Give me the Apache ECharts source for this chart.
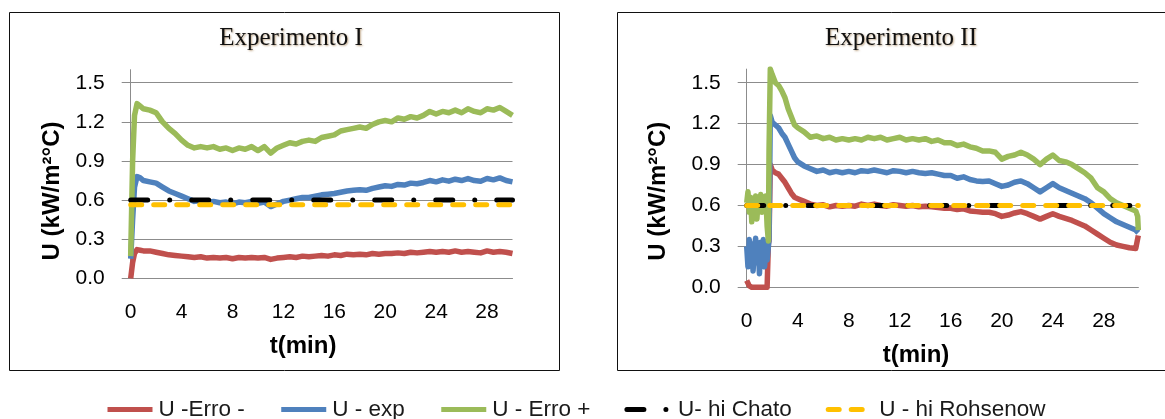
<!DOCTYPE html>
<html>
<head>
<meta charset="utf-8">
<script src="https://cdn.jsdelivr.net/npm/echarts@6/dist/echarts.min.js"></script>
<style>
html,body{margin:0;padding:0;background:#fff;}
#chart{width:1165px;height:419px;}
</style>
</head>
<body>
<div id="chart"></div>
<script>
// ---------- Data ----------
const titles = ['Experimento I', 'Experimento II'];
const seriesNames = ['U -Erro -', 'U - exp', 'U - Erro +', 'U- hi Chato', 'U - hi Rohsenow'];
const xTickLabels = [0, 4, 8, 12, 16, 20, 24, 28];
const yTickLabels = [0.0, 0.3, 0.6, 0.9, 1.2, 1.5];

// Experimento I
const timeI = [0,0.15,0.3,0.5,0.75,1,1.5,2,2.5,3,3.5,4,4.5,5,5.5,6,6.5,7,7.5,8,8.5,9,9.5,10,10.5,11,11.5,12,12.5,13,13.5,14,14.5,15,15.5,16,16.5,17,17.5,18,18.5,19,19.5,20,20.5,21,21.5,22,22.5,23,23.5,24,24.5,25,25.5,26,26.5,27,27.5,28,28.5,29,29.5,30];
const erroMinusI = [0,0.12,0.19,0.22,0.215,0.21,
  0.21,0.20,0.19,0.18,0.175,0.17,0.165,0.16,0.165,0.155,
  0.16,0.155,0.16,0.15,0.16,0.155,0.16,0.155,0.16,0.145,
  0.155,0.16,0.165,0.16,0.17,0.165,0.17,0.175,0.17,0.18,
  0.175,0.185,0.18,0.185,0.18,0.19,0.185,0.19,0.19,0.195,
  0.19,0.2,0.195,0.2,0.205,0.2,0.205,0.2,0.21,0.2,
  0.205,0.2,0.195,0.21,0.2,0.205,0.2,0.19];
const expI = [0.15,0.45,0.70,0.78,0.77,0.75,
  0.74,0.73,0.70,0.67,0.65,0.63,0.61,0.59,0.595,0.58,
  0.59,0.58,0.585,0.57,0.585,0.58,0.59,0.575,0.585,0.55,
  0.57,0.59,0.60,0.61,0.62,0.62,0.63,0.64,0.645,0.65,
  0.66,0.67,0.675,0.68,0.675,0.69,0.70,0.71,0.705,0.72,
  0.715,0.73,0.725,0.735,0.75,0.74,0.755,0.745,0.76,0.75,
  0.765,0.75,0.745,0.765,0.755,0.77,0.75,0.74];
const erroPlusI = [0.17,0.9,1.25,1.34,1.32,1.30,
  1.29,1.27,1.20,1.15,1.11,1.06,1.02,1.00,1.01,1.00,
  1.01,0.99,1.00,0.98,1.00,0.99,1.01,0.98,1.01,0.96,
  1.00,1.02,1.04,1.03,1.05,1.06,1.05,1.08,1.09,1.10,
  1.13,1.14,1.15,1.16,1.15,1.18,1.20,1.21,1.20,1.23,
  1.22,1.24,1.23,1.25,1.28,1.26,1.28,1.27,1.29,1.27,
  1.30,1.28,1.27,1.30,1.29,1.31,1.28,1.25];
const refTimeI = [0, 30];
const chatoI = [0.6, 0.6];
const rohsenowI = [0.565, 0.565];

// Experimento II
const timeII = [0,0.1,0.2,0.3,0.4,0.5,0.6,0.7,0.8,0.9,1.0,1.1,1.2,1.3,1.4,1.5,1.6,1.7,
  1.75,1.85,2.0,2.25,2.5,2.75,3,3.25,3.5,3.75,
  4,4.5,5,5.5,6,6.5,7,7.5,8,8.5,9,9.5,10,10.5,11,11.5,12,12.5,13,13.5,14,14.5,15,15.5,16,16.5,17,17.5,18,18.5,19,19.5,20,20.5,21,21.5,22,22.5,23,23.5,24,24.5,25,25.5,26,26.5,27,27.5,28,28.5,29,29.5,30,30.5,
  30.65,30.7];
const erroMinusII = [0.05,0.03,0.01,0,0,0.01,0,0,0,0,0,0,0,0,0,0,0,0.32,
  0.34,0.90,0.86,0.84,0.83,0.80,0.77,0.73,0.69,0.66,
  0.65,0.63,0.61,0.60,0.605,0.59,0.60,0.595,0.60,0.595,
  0.61,0.60,0.61,0.60,0.595,0.605,0.60,0.595,0.60,0.59,
  0.595,0.59,0.585,0.58,0.58,0.57,0.575,0.56,0.555,0.55,
  0.55,0.54,0.52,0.53,0.545,0.555,0.54,0.52,0.50,0.52,
  0.54,0.52,0.505,0.49,0.47,0.45,0.42,0.39,0.36,0.33,
  0.31,0.30,0.29,0.285,
  0.28,0.38];
const expII = [0.30,0.15,0.35,0.20,0.32,0.12,0.28,0.36,0.18,0.30,0.10,0.33,0.22,0.35,0.15,0.28,0.20,0.30,
  0.35,1.26,1.21,1.19,1.17,1.13,1.10,1.05,1.00,0.95,
  0.92,0.89,0.87,0.85,0.86,0.84,0.85,0.84,0.85,0.84,
  0.855,0.85,0.86,0.85,0.84,0.855,0.85,0.84,0.85,0.84,
  0.835,0.84,0.83,0.82,0.82,0.80,0.81,0.79,0.78,0.775,
  0.78,0.76,0.74,0.75,0.77,0.78,0.76,0.73,0.70,0.73,
  0.76,0.73,0.71,0.69,0.67,0.65,0.62,0.58,0.54,0.51,
  0.48,0.46,0.44,0.42,
  0.41,0.40];
const erroPlusII = [0.62,0.70,0.55,0.66,0.48,0.64,0.58,0.67,0.50,0.65,0.60,0.68,0.55,0.66,0.62,0.67,0.45,0.34,
  1.00,1.60,1.56,1.50,1.48,1.44,1.39,1.31,1.25,1.19,
  1.17,1.14,1.10,1.11,1.09,1.10,1.08,1.09,1.08,1.09,
  1.08,1.10,1.09,1.10,1.08,1.09,1.10,1.08,1.09,1.08,
  1.09,1.07,1.08,1.06,1.06,1.04,1.05,1.03,1.02,1.00,
  1.00,0.99,0.94,0.96,0.97,0.99,0.97,0.94,0.90,0.94,
  0.97,0.93,0.92,0.90,0.87,0.84,0.80,0.73,0.70,0.65,
  0.62,0.60,0.58,0.56,
  0.52,0.42];
const refTimeII = [0, 30.7];
const chatoII = [0.6, 0.6];
const rohsenowII = [0.6, 0.6];

// ---------- Styling ----------
const colors = ['#C0504D', '#4F81BD', '#9BBB59', '#000000', '#FFC000'];
const gridColor = '#8c8c8c';
const sans = 'Arial, "Liberation Sans", sans-serif';

function pairs(t, v) { return t.map((x, i) => [x, v[i]]); }

const panels = [
  {t: timeI, m: erroMinusI, e: expI, p: erroPlusI, rt: refTimeI, c: chatoI, r: rohsenowI, xmax: 30},
  {t: timeII, m: erroMinusII, e: expII, p: erroPlusII, rt: refTimeII, c: chatoII, r: rohsenowII, xmax: 30.7}
];

const grid = [
  {left: 130.7, top: 69.7, width: 381.8, height: 208.6},
  {left: 746.7, top: 69.1, width: 391.6, height: 218.2}
];
const xNamePad = [37, 53];
const yNameGap = [66, 76];
const yNamePad = [34, 26];

const xAxis = panels.map((p, i) => ({
  type: 'value', gridIndex: i, min: 0, max: p.xmax, interval: 4,
  name: 't(min)', nameLocation: 'middle', nameGap: 56,
  nameTextStyle: {fontFamily: sans, fontWeight: 'bold', fontSize: 24, color: '#000', padding: [0, xNamePad[i], 0, 0]},
  axisLine: {show: true, onZero: false, lineStyle: {color: gridColor, width: 1}},
  axisTick: {show: false},
  splitLine: {show: false},
  axisLabel: {fontFamily: sans, fontSize: 21, color: '#000', margin: 23, customValues: xTickLabels}
}));

const yAxis = panels.map((p, i) => ({
  type: 'value', gridIndex: i, min: 0, max: 1.6, interval: 0.3,
  name: 'U (kW/m²°C)', nameLocation: 'middle', nameGap: yNameGap[i], nameRotate: 90,
  nameTextStyle: {fontFamily: sans, fontWeight: 'bold', fontSize: 24, color: '#000', padding: [0, yNamePad[i], 0, 0]},
  axisLine: {show: true, lineStyle: {color: gridColor, width: 1}},
  axisTick: {show: true, length: 9, lineStyle: {color: gridColor, width: 1}, customValues: yTickLabels},
  splitLine: {show: true, lineStyle: {color: gridColor, width: 1}},
  axisLabel: {fontFamily: sans, fontSize: 21, color: '#000', margin: 26,
    customValues: yTickLabels, formatter: v => v.toFixed(1)}
}));

const series = [];
const lw = 5.5;
panels.forEach((p, i) => {
  const base = {type: 'line', xAxisIndex: i, yAxisIndex: i, showSymbol: false, symbol: 'none', animation: false, silent: true};
  series.push(Object.assign({}, base, {name: seriesNames[0], data: pairs(p.t, p.m), lineStyle: {color: colors[0], width: lw, join: 'round'}, itemStyle: {color: colors[0]}}));
  series.push(Object.assign({}, base, {name: seriesNames[1], data: pairs(p.t, p.e), lineStyle: {color: colors[1], width: lw, join: 'round'}, itemStyle: {color: colors[1]}}));
  series.push(Object.assign({}, base, {name: seriesNames[2], data: pairs(p.t, p.p), lineStyle: {color: colors[2], width: lw, join: 'round'}, itemStyle: {color: colors[2]}}));
  series.push(Object.assign({}, base, {name: seriesNames[3], data: pairs(p.rt, p.c), lineStyle: {color: colors[3], width: 5, type: [17, 22, 0.01, 22], cap: 'round'}, itemStyle: {color: colors[3]}}));
  series.push(Object.assign({}, base, {name: seriesNames[4], data: pairs(p.rt, p.r), lineStyle: {color: colors[4], width: 5, type: [11, 12], cap: 'round'}, itemStyle: {color: colors[4]}}));
});

const titleStyle = {fontFamily: '"Liberation Serif", "Times New Roman", serif', fontWeight: 'normal', fontSize: 25, color: '#111',
  textShadowColor: 'rgba(150,110,60,0.6)', textShadowBlur: 2, textShadowOffsetX: 1, textShadowOffsetY: 1};

const chart = echarts.init(document.getElementById('chart'), null, {renderer: 'canvas'});
chart.setOption({
  backgroundColor: '#ffffff',
  animation: false,
  title: [
    {text: titles[0], left: 286, top: 21, textAlign: 'center', textStyle: titleStyle},
    {text: titles[1], left: 896, top: 21, textAlign: 'center', textStyle: titleStyle}
  ],
  legend: {
    data: seriesNames, left: 100, top: 393, itemWidth: 45, itemHeight: 12, itemGap: 34,
    itemStyle: {color: 'rgba(0,0,0,0)', borderWidth: 0, opacity: 0},
    lineStyle: {width: 5},
    textStyle: {fontFamily: sans, fontSize: 22.5, color: '#1a1a1a', padding: [0, 0, 0, 1]},
    selectedMode: false
  },
  grid: grid,
  xAxis: xAxis,
  yAxis: yAxis,
  series: series,
  graphic: [
    {type: 'rect', shape: {x: 9.5, y: 12.5, width: 550, height: 358}, style: {fill: 'none', stroke: '#111', lineWidth: 1}, silent: true},
    {type: 'rect', shape: {x: 617.5, y: 12.5, width: 560, height: 358}, style: {fill: 'none', stroke: '#111', lineWidth: 1}, silent: true}
  ]
});
</script>
</body>
</html>
